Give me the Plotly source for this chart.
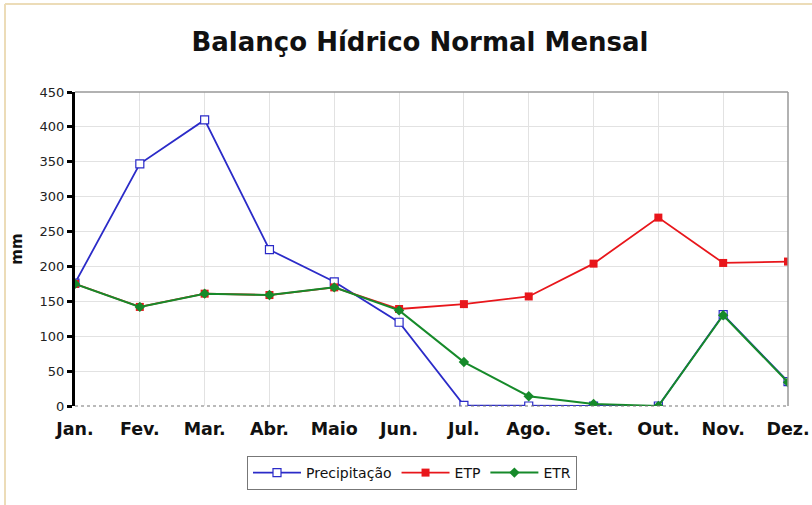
import plotly.graph_objects as go

months = ["Jan.", "Fev.", "Mar.", "Abr.", "Maio", "Jun.", "Jul.", "Ago.", "Set.", "Out.", "Nov.", "Dez."]
precipitacao = [176, 347, 410, 224, 178, 120, 1, 0, 0, 0, 131, 35]
etp = [175, 142, 161, 159, 170, 139, 146, 157, 204, 270, 205, 207]
etr = [175, 142, 161, 159, 170, 137, 63, 14, 3, 0, 130, 34]
y_ticks = [0, 50, 100, 150, 200, 250, 300, 350, 400, 450]

FONT = "DejaVu Sans, Verdana, sans-serif"

fig = go.Figure()
fig.add_trace(go.Scatter(
    x=months, y=precipitacao, name="Precipitação", mode="lines+markers",
    line=dict(color="#2b2bc8", width=1.8),
    marker=dict(symbol="square", size=8, color="white", line=dict(color="#2b2bc8", width=1.2)),
))
fig.add_trace(go.Scatter(
    x=months, y=etp, name="ETP", mode="lines+markers",
    line=dict(color="#e8161b", width=1.8),
    marker=dict(symbol="square", size=8, color="#e8161b"),
))
fig.add_trace(go.Scatter(
    x=months, y=etr, name="ETR", mode="lines+markers",
    line=dict(color="#168a2a", width=2),
    marker=dict(symbol="diamond", size=8, color="#168a2a"),
))

L, R, T, B = 75, 788, 92, 406
W, H = 812, 505

def px(x):
    return (x - L) / (R - L)

def py(y):
    return (B - y) / (B - T)

fig.update_layout(
    width=W, height=H,
    margin=dict(l=L, r=W - R, t=T, b=H - B, autoexpand=False),
    paper_bgcolor="white", plot_bgcolor="white",
    font=dict(family=FONT, color="#111"),
    title=dict(text="<b>Balanço Hídrico Normal Mensal</b>", xref="container", x=420 / W,
               xanchor="center", y=1 - 42 / H, yanchor="middle",
               font=dict(size=26, color="#111", family=FONT)),
    showlegend=True,
    legend=dict(orientation="h", x=px(412), xanchor="center", y=py(473), yanchor="middle",
                bordercolor="#777", borderwidth=1, bgcolor="white",
                font=dict(size=14, color="#111", family=FONT), itemwidth=48),
    xaxis=dict(
        type="category", range=[0, 11], showgrid=True, gridcolor="#e2e2e2", gridwidth=1,
        tickfont=dict(size=17.5, color="#111", family=FONT),
        tickprefix="<b>", ticksuffix="</b>",
        showline=False, zeroline=False, ticks="", ticklabelstandoff=10,
    ),
    yaxis=dict(
        range=[0, 450], tickvals=y_ticks, showgrid=True, gridcolor="#e2e2e2", gridwidth=1,
        tickfont=dict(size=13, color="#222", family=FONT),
        showline=True, linecolor="black", linewidth=3, ticks="outside", ticklen=5,
        tickwidth=3, tickcolor="black", zeroline=False,
        title=dict(text="<b>mm</b>", font=dict(size=15, color="#111", family=FONT), standoff=14),
    ),
    shapes=[
        dict(type="line", xref="paper", yref="paper", x0=0, x1=1, y0=1, y1=1,
             line=dict(color="#999", width=1.5)),
        dict(type="line", xref="paper", yref="paper", x0=1, x1=1, y0=0, y1=1,
             line=dict(color="#999", width=1.5)),
        dict(type="line", xref="paper", yref="paper", x0=0, x1=1, y0=0, y1=0,
             line=dict(color="#777", width=1.2, dash="dot")),
        dict(type="line", xref="paper", yref="paper", x0=px(5), x1=px(5), y0=py(4), y1=py(505),
             line=dict(color="#ecdcb8", width=2)),
        dict(type="line", xref="paper", yref="paper", x0=px(5), x1=px(812), y0=py(4), y1=py(4),
             line=dict(color="#ecdcb8", width=2)),
    ],
)

fig.write_html("out.html", config={"displayModeBar": False},
               post_script="document.body.style.margin='0';document.body.style.overflow='hidden';")
